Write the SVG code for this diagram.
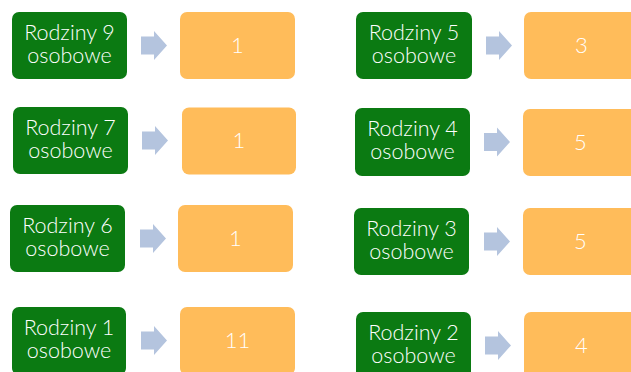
<svg xmlns="http://www.w3.org/2000/svg" width="631" height="372" viewBox="0 0 631 372">
<style>
.g{fill:#0B7A12}
.o{fill:#FFBC5A}
.a{fill:#B4C4DE}
text{fill:#fff;font-family:Lato,"Liberation Sans",sans-serif;font-weight:300;text-anchor:middle}
.l{font-size:21.5px}
.n{font-size:22px}
</style>
<defs>
<path id="arr" d="M0,-9 H13 V-14.5 L26,0 L13,14.5 V9 H0 Z"/>
</defs>
<g id="connectors">
<use href="#arr" class="a" x="141" y="45.5"/>
<use href="#arr" class="a" x="142" y="140.5"/>
<use href="#arr" class="a" x="140" y="238.5"/>
<use href="#arr" class="a" x="141" y="340.5"/>
<use href="#arr" class="a" x="486" y="45.5"/>
<use href="#arr" class="a" x="484" y="142"/>
<use href="#arr" class="a" x="484" y="241.5"/>
<use href="#arr" class="a" x="485" y="345.5"/>
</g>
<g id="r9"><rect class="g" x="12" y="12" width="115" height="67" rx="7"/><text class="l" x="69.5" y="39.5">Rodziny 9</text><text class="l" x="69.5" y="63">osobowe</text></g>
<g id="v9"><rect class="o" x="180" y="12" width="115" height="67" rx="7"/><text class="n" x="237.5" y="53">1</text></g>
<g id="r7"><rect class="g" x="13" y="107" width="115" height="67" rx="7"/><text class="l" x="70.5" y="134.5">Rodziny 7</text><text class="l" x="70.5" y="158">osobowe</text></g>
<g id="v7"><rect class="o" x="182" y="107.5" width="114" height="67" rx="7"/><text class="n" x="239" y="148">1</text></g>
<g id="r6"><rect class="g" x="10" y="205" width="115" height="67" rx="7"/><text class="l" x="67.5" y="232.5">Rodziny 6</text><text class="l" x="67.5" y="256">osobowe</text></g>
<g id="v6"><rect class="o" x="178" y="205" width="115" height="67" rx="7"/><text class="n" x="235.5" y="246">1</text></g>
<g id="r1"><rect class="g" x="12" y="307" width="114" height="68" rx="7"/><text class="l" x="69" y="334.5">Rodziny 1</text><text class="l" x="69" y="358">osobowe</text></g>
<g id="v1"><rect class="o" x="180" y="307" width="115" height="68" rx="7"/><text class="n" x="237.5" y="348">11</text></g>
<g id="r5"><rect class="g" x="356" y="12" width="116" height="67" rx="7"/><text class="l" x="414" y="39.5">Rodziny 5</text><text class="l" x="414" y="63">osobowe</text></g>
<g id="v5"><rect class="o" x="524" y="12" width="115" height="67" rx="7"/><text class="n" x="581.5" y="53">3</text></g>
<g id="r4"><rect class="g" x="355" y="108" width="115" height="68" rx="7"/><text class="l" x="412.5" y="135.5">Rodziny 4</text><text class="l" x="412.5" y="159">osobowe</text></g>
<g id="v4"><rect class="o" x="523" y="109" width="115" height="67" rx="7"/><text class="n" x="580.5" y="150">5</text></g>
<g id="r3"><rect class="g" x="354" y="208" width="115" height="67" rx="7"/><text class="l" x="411.5" y="235.5">Rodziny 3</text><text class="l" x="411.5" y="259">osobowe</text></g>
<g id="v3"><rect class="o" x="523" y="208" width="115" height="67" rx="7"/><text class="n" x="580.5" y="249">5</text></g>
<g id="r2"><rect class="g" x="356" y="312" width="115" height="68" rx="7"/><text class="l" x="413.5" y="339.5">Rodziny 2</text><text class="l" x="413.5" y="363">osobowe</text></g>
<g id="v2"><rect class="o" x="524" y="312" width="115" height="68" rx="7"/><text class="n" x="581.5" y="353">4</text></g>
</svg>
